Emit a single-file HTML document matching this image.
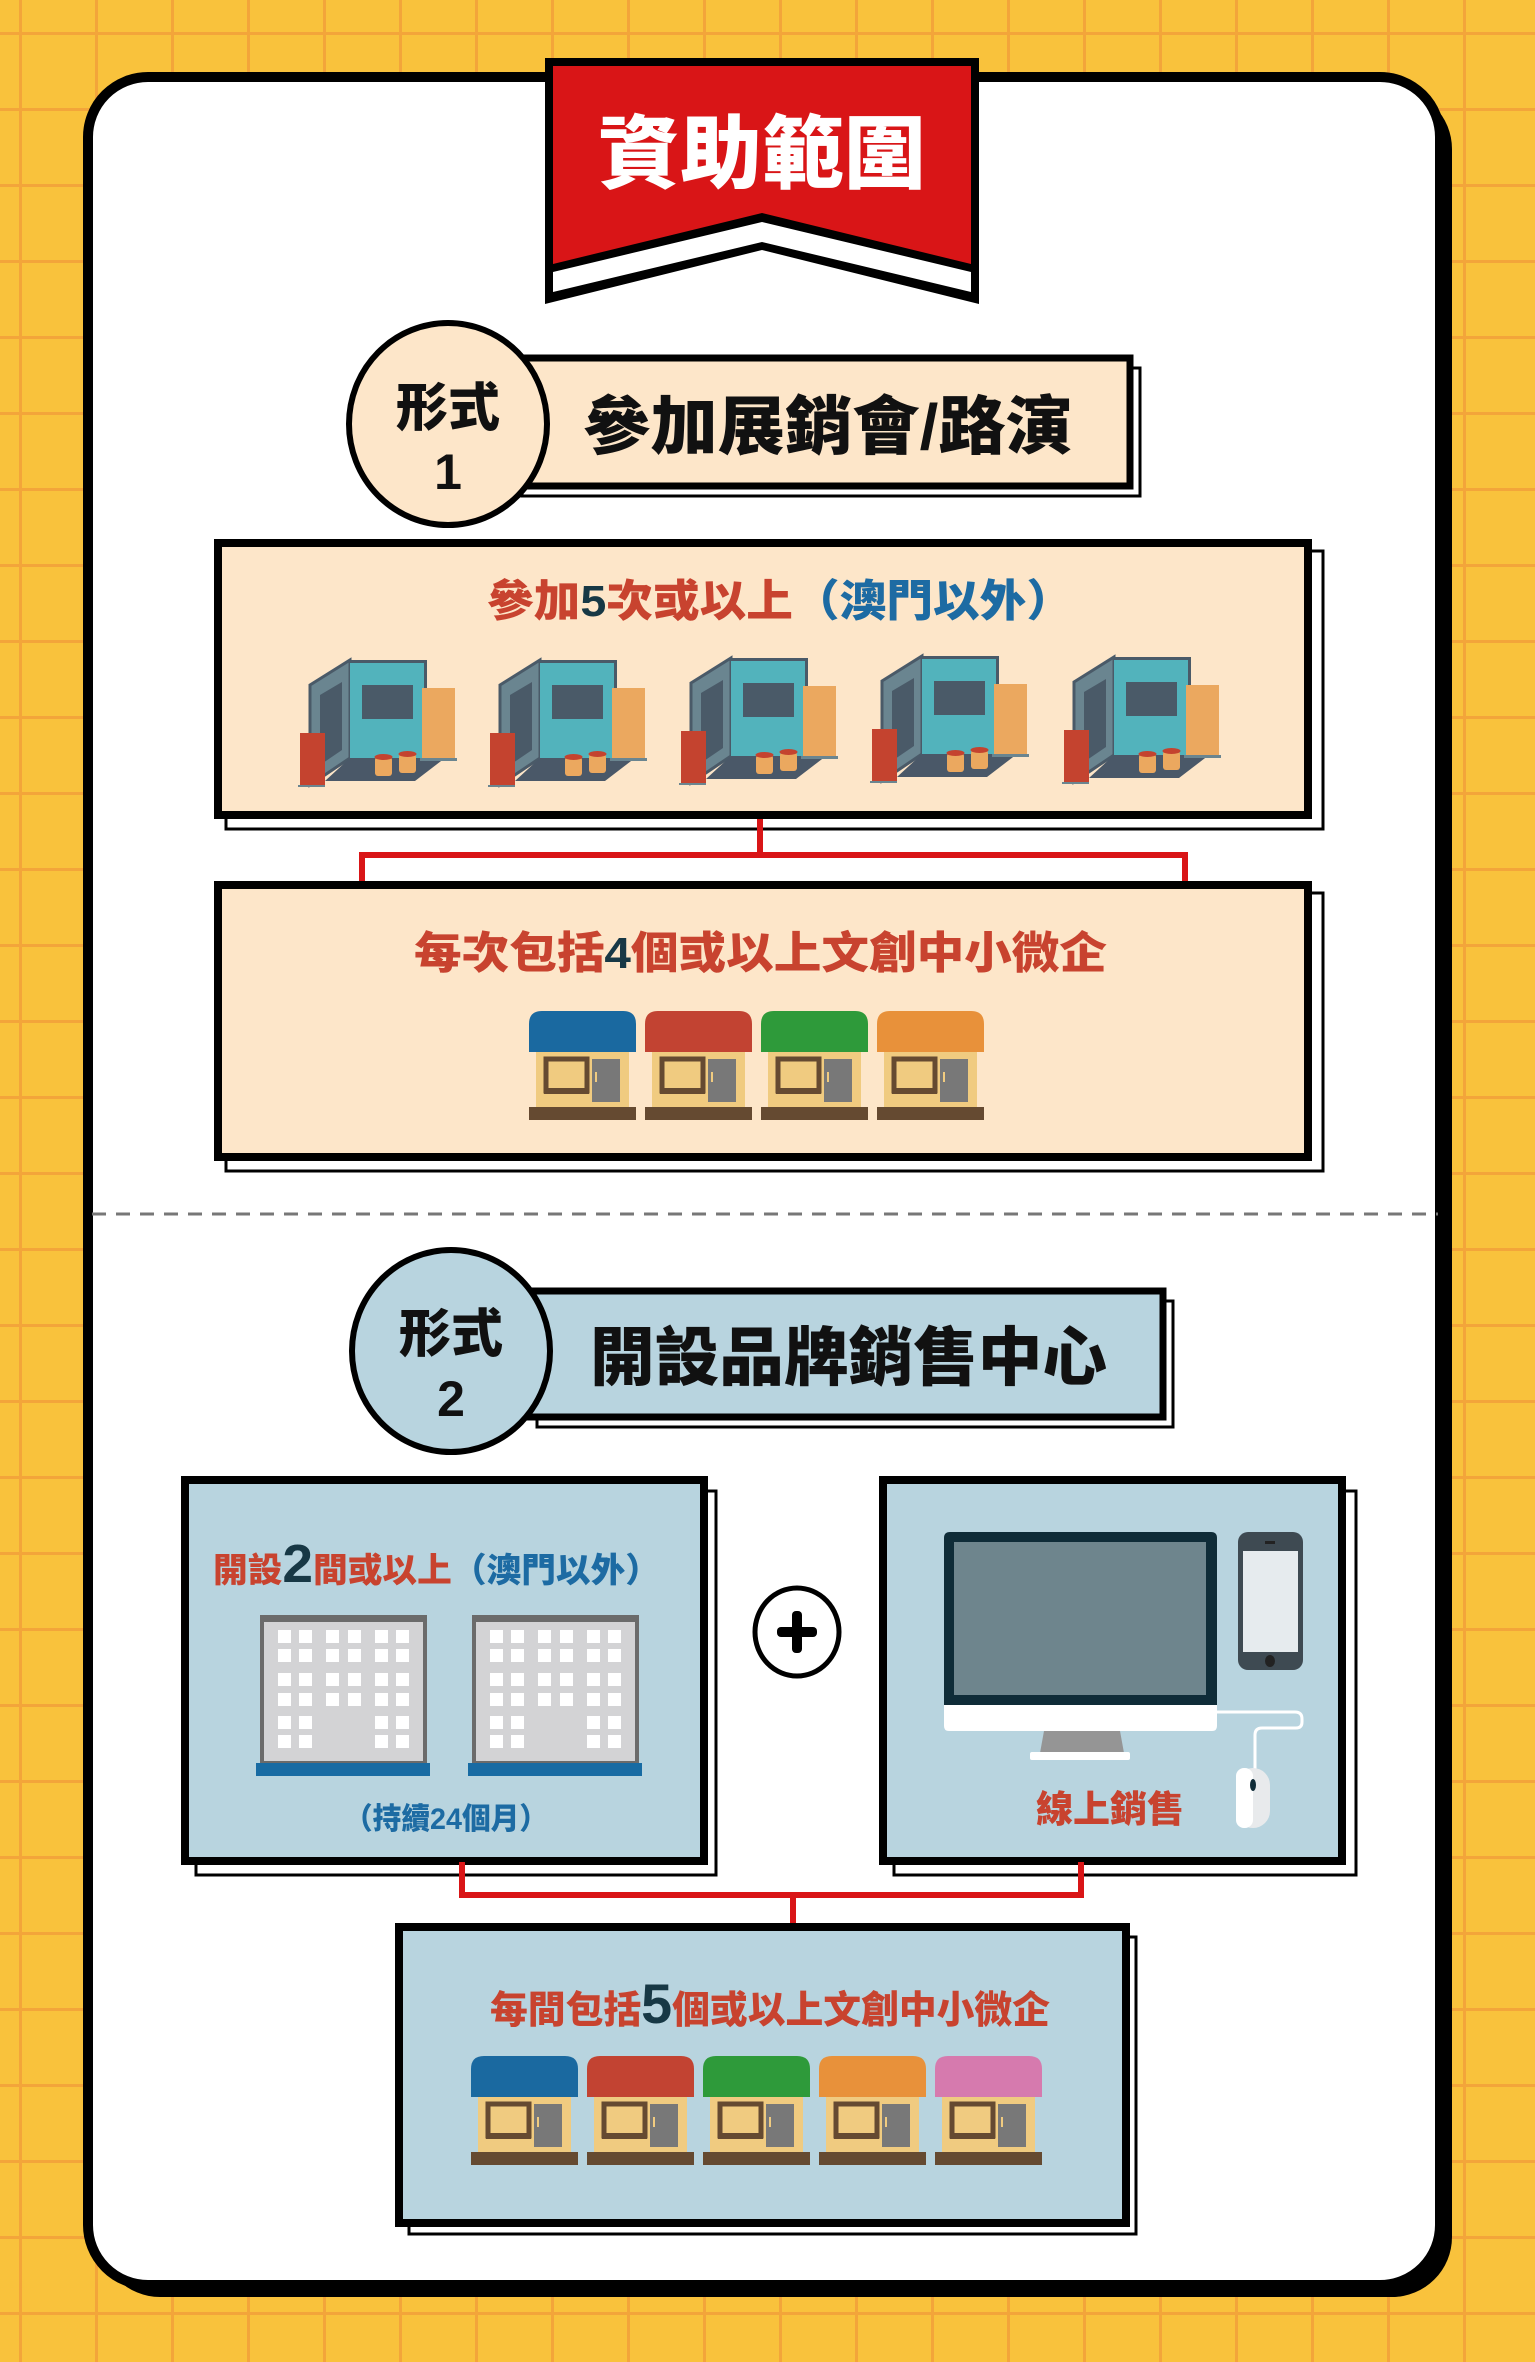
<!DOCTYPE html>
<html><head><meta charset="utf-8"><style>
html,body{margin:0;padding:0;width:1535px;height:2362px;overflow:hidden;background:#F9C23C}
svg{display:block}
text{font-family:"Liberation Sans","Noto Sans CJK TC","Noto Sans CJK SC",sans-serif;font-weight:900}
</style></head><body>
<svg width="1535" height="2362" viewBox="0 0 1535 2362" xmlns="http://www.w3.org/2000/svg">
<defs>
<pattern id="grid" x="19" y="32" width="76" height="76" patternUnits="userSpaceOnUse">
<rect x="0" y="0" width="3" height="76" fill="#F3A53A"/><rect x="0" y="0" width="76" height="3" fill="#F3A53A"/>
</pattern>
<g id="booth">
<polygon points="20,45 60,20 60,118 20,145" fill="#6A8590" stroke="#4A5A68" stroke-width="3"/>
<polygon points="30,55 52,42 52,110 30,125" fill="#4A5A68"/>
<polygon points="35,141 60,118 155,118 125,141" fill="#4A5868"/>
<rect x="60" y="20" width="77" height="98" fill="#52B3BC"/>
<rect x="60" y="20" width="77" height="3" fill="#4A5A68"/>
<rect x="134" y="20" width="3" height="98" fill="#4A5A68"/>
<rect x="72" y="45" width="51" height="34" fill="#4A5A68"/>
<rect x="132" y="48" width="33" height="70" fill="#EBA85F"/>
<rect x="130" y="118" width="37" height="3" fill="#6A8590"/>
<rect x="10" y="93" width="25" height="52" fill="#C4432F"/>
<rect x="8" y="145" width="27" height="2" fill="#6A8590"/>
<rect x="85" y="117" width="17" height="19" rx="3" fill="#EBA85F"/><ellipse cx="93.5" cy="117" rx="9" ry="3" fill="#C4432F"/>
<rect x="109" y="114" width="17" height="19" rx="3" fill="#EBA85F"/><ellipse cx="117.5" cy="114" rx="9" ry="3" fill="#C4432F"/>
</g>
<g id="shopbody">
<rect x="16" y="52" width="93" height="56" fill="#F0CB80"/>
<rect x="9" y="107" width="107" height="13" fill="#654A31"/>
<rect x="26" y="59" width="41" height="32" fill="none" stroke="#654A31" stroke-width="5"/>
<rect x="24" y="88" width="45" height="6" fill="#654A31"/>
<rect x="72" y="59" width="28" height="43" fill="#787878"/>
<rect x="75" y="72" width="2" height="10" fill="#F0CB80"/>
</g>
<g id="bldg">
<rect x="0" y="0" width="163" height="146" fill="#D3D3D5" stroke="#6B6B6B" stroke-width="4"/>
<rect x="0" y="0" width="163" height="5" fill="#6B6B6B"/>
<g fill="#fff">
<rect x="16" y="13" width="13" height="13"/><rect x="37" y="13" width="13" height="13"/><rect x="64" y="13" width="13" height="13"/><rect x="86" y="13" width="13" height="13"/><rect x="113" y="13" width="13" height="13"/><rect x="134" y="13" width="13" height="13"/>
<rect x="16" y="32" width="13" height="13"/><rect x="37" y="32" width="13" height="13"/><rect x="64" y="32" width="13" height="13"/><rect x="86" y="32" width="13" height="13"/><rect x="113" y="32" width="13" height="13"/><rect x="134" y="32" width="13" height="13"/>
<rect x="16" y="56" width="13" height="13"/><rect x="37" y="56" width="13" height="13"/><rect x="64" y="56" width="13" height="13"/><rect x="86" y="56" width="13" height="13"/><rect x="113" y="56" width="13" height="13"/><rect x="134" y="56" width="13" height="13"/>
<rect x="16" y="76" width="13" height="13"/><rect x="37" y="76" width="13" height="13"/><rect x="64" y="76" width="13" height="13"/><rect x="86" y="76" width="13" height="13"/><rect x="113" y="76" width="13" height="13"/><rect x="134" y="76" width="13" height="13"/>
<rect x="16" y="99" width="13" height="13"/><rect x="37" y="99" width="13" height="13"/><rect x="113" y="99" width="13" height="13"/><rect x="134" y="99" width="13" height="13"/>
<rect x="16" y="118" width="13" height="13"/><rect x="37" y="118" width="13" height="13"/><rect x="113" y="118" width="13" height="13"/><rect x="134" y="118" width="13" height="13"/>
</g>
</g>
</defs>
<rect width="1535" height="2362" fill="url(#grid)"/>

<!-- card -->
<rect x="100" y="89" width="1352" height="2208" rx="60" fill="#000"/>
<rect x="88" y="77" width="1352" height="2208" rx="60" fill="#fff" stroke="#000" stroke-width="10"/>

<!-- banner -->
<polygon points="545,58 979,58 979,304 762,250 545,304" fill="#000"/>
<polygon points="553,272 762,222 971,272 971,292 762,242 553,292" fill="#fff"/>
<polygon points="553,66 971,66 971,264 762,213 553,264" fill="#D91517"/>
<text x="762" y="182" font-size="80" fill="#fff" text-anchor="middle" textLength="328" lengthAdjust="spacingAndGlyphs">資助範圍</text>

<!-- form 1 header -->
<rect x="522" y="368" width="618" height="128" fill="#fff" stroke="#000" stroke-width="3"/>
<rect x="512" y="358" width="618" height="128" fill="#FDE6C9" stroke="#000" stroke-width="7"/>
<ellipse cx="448" cy="424" rx="99" ry="101" fill="#FDE6C9" stroke="#000" stroke-width="6"/>
<text x="448" y="426" font-size="52" fill="#111" text-anchor="middle">形式</text>
<text x="448" y="489" font-size="50" fill="#111" text-anchor="middle">1</text>
<text x="583" y="449" font-size="64" fill="#111" textLength="490" lengthAdjust="spacingAndGlyphs">參加展銷會/路演</text>

<!-- box 1 -->
<rect x="226" y="551" width="1097" height="278" fill="#fff" stroke="#000" stroke-width="3"/>
<rect x="218" y="543" width="1090" height="272" fill="#FDE6C9" stroke="#000" stroke-width="8"/>
<text x="487" y="616" font-size="44" textLength="586" lengthAdjust="spacingAndGlyphs"><tspan fill="#C8432F">參加</tspan><tspan fill="#173845">5</tspan><tspan fill="#C8432F">次或以上</tspan><tspan fill="#1D6BA3">（澳門以外）</tspan></text>
<use href="#booth" x="0" y="0" transform="translate(290,640)"/>
<use href="#booth" transform="translate(480,640)"/>
<use href="#booth" transform="translate(671,638)"/>
<use href="#booth" transform="translate(862,636)"/>
<use href="#booth" transform="translate(1054,637)"/>

<!-- connector 1 -->
<polyline points="760,819 760,855 362,855 362,881" fill="none" stroke="#D91517" stroke-width="6"/>
<polyline points="760,855 1185,855 1185,881" fill="none" stroke="#D91517" stroke-width="6"/>

<!-- box 2 -->
<rect x="226" y="893" width="1097" height="278" fill="#fff" stroke="#000" stroke-width="3"/>
<rect x="218" y="885" width="1090" height="272" fill="#FDE6C9" stroke="#000" stroke-width="8"/>
<text x="414" y="968" font-size="44" textLength="693" lengthAdjust="spacingAndGlyphs"><tspan fill="#C8432F">每次包括</tspan><tspan fill="#173845">4</tspan><tspan fill="#C8432F">個或以上文創中小微企</tspan></text>
<g transform="translate(520,1000)"><path d="M9,52 V24 Q9,11 22,11 H103 Q116,11 116,24 V52 Z" fill="#1A69A0"/><use href="#shopbody"/></g>
<g transform="translate(636,1000)"><path d="M9,52 V24 Q9,11 22,11 H103 Q116,11 116,24 V52 Z" fill="#C24332"/><use href="#shopbody"/></g>
<g transform="translate(752,1000)"><path d="M9,52 V24 Q9,11 22,11 H103 Q116,11 116,24 V52 Z" fill="#2E9A3A"/><use href="#shopbody"/></g>
<g transform="translate(868,1000)"><path d="M9,52 V24 Q9,11 22,11 H103 Q116,11 116,24 V52 Z" fill="#E8913A"/><use href="#shopbody"/></g>

<!-- dashed -->
<line x1="92" y1="1214" x2="1438" y2="1214" stroke="#777" stroke-width="3" stroke-dasharray="14 10"/>

<!-- form 2 header -->
<rect x="537" y="1301" width="636" height="126" fill="#fff" stroke="#000" stroke-width="3"/>
<rect x="527" y="1291" width="636" height="126" fill="#B8D4DF" stroke="#000" stroke-width="7"/>
<ellipse cx="451" cy="1351" rx="99" ry="101" fill="#B8D4DF" stroke="#000" stroke-width="6"/>
<text x="451" y="1352" font-size="52" fill="#111" text-anchor="middle">形式</text>
<text x="451" y="1416" font-size="50" fill="#111" text-anchor="middle">2</text>
<text x="590" y="1380" font-size="64" fill="#111" textLength="517" lengthAdjust="spacingAndGlyphs">開設品牌銷售中心</text>

<!-- left box -->
<rect x="196" y="1491" width="520" height="384" fill="#fff" stroke="#000" stroke-width="3"/>
<rect x="185" y="1480" width="519" height="381" fill="#B8D4DF" stroke="#000" stroke-width="8"/>
<text x="213" y="1582" font-size="34" textLength="447" lengthAdjust="spacingAndGlyphs"><tspan fill="#C8432F">開設</tspan><tspan fill="#173845" font-size="54">2</tspan><tspan fill="#C8432F">間或以上</tspan><tspan fill="#1D6BA3">（澳門以外）</tspan></text>
<use href="#bldg" transform="translate(262,1617)"/>
<use href="#bldg" transform="translate(474,1617)"/>
<rect x="256" y="1763" width="174" height="13" fill="#186BA3"/>
<rect x="468" y="1763" width="174" height="13" fill="#186BA3"/>
<text x="446" y="1829" font-size="30" fill="#1D6BA3" text-anchor="middle" textLength="204" lengthAdjust="spacingAndGlyphs">（持續24個月）</text>

<!-- plus -->
<ellipse cx="797" cy="1632" rx="42" ry="44" fill="#fff" stroke="#000" stroke-width="5"/>
<rect x="777" y="1627" width="40" height="10" rx="4" fill="#000"/>
<rect x="792" y="1611" width="10" height="42" rx="4" fill="#000"/>

<!-- right box -->
<rect x="894" y="1491" width="462" height="384" fill="#fff" stroke="#000" stroke-width="3"/>
<rect x="883" y="1480" width="459" height="381" fill="#B8D4DF" stroke="#000" stroke-width="8"/>
<path d="M944,1708 V1538 Q944,1532 950,1532 H1211 Q1217,1532 1217,1538 V1708 Z" fill="#0F2C38"/>
<rect x="954" y="1542" width="252" height="153" fill="#6E858D"/>
<path d="M944,1705 H1217 V1726 Q1217,1731 1212,1731 H949 Q944,1731 944,1726 Z" fill="#fff"/>
<polygon points="1044,1731 1120,1731 1124,1753 1040,1753" fill="#959595"/>
<rect x="1030" y="1752" width="100" height="8" rx="2" fill="#fff"/>
<path d="M1217,1712 H1295 Q1302,1712 1302,1719 V1722 Q1302,1728 1296,1728 H1262 Q1255,1728 1255,1735 V1770" fill="none" stroke="#fff" stroke-width="3"/>
<rect x="1238" y="1532" width="65" height="138" rx="10" fill="#3E4A52"/>
<rect x="1243" y="1551" width="55" height="101" fill="#E6EBEE"/>
<rect x="1265" y="1541" width="10" height="3" fill="#222"/>
<ellipse cx="1270" cy="1661" rx="5" ry="6" fill="#222"/>
<rect x="1236" y="1768" width="34" height="60" rx="17" fill="#E8EAEC"/>
<rect x="1236" y="1768" width="17" height="60" rx="8" fill="#fff"/>
<ellipse cx="1253" cy="1785" rx="3" ry="6" fill="#0F2C38"/>
<text x="1036" y="1822" font-size="37" fill="#C8432F" textLength="148" lengthAdjust="spacingAndGlyphs">線上銷售</text>

<!-- connector 2 -->
<polyline points="462,1862 462,1895 1081,1895 1081,1862" fill="none" stroke="#D91517" stroke-width="6"/>
<line x1="793" y1="1895" x2="793" y2="1925" stroke="#D91517" stroke-width="6"/>

<!-- box 3 -->
<rect x="409" y="1937" width="727" height="297" fill="#fff" stroke="#000" stroke-width="3"/>
<rect x="399" y="1927" width="727" height="296" fill="#B8D4DF" stroke="#000" stroke-width="8"/>
<text x="490" y="2023" font-size="38" textLength="560" lengthAdjust="spacingAndGlyphs"><tspan fill="#C8432F">每間包括</tspan><tspan fill="#173845" font-size="56">5</tspan><tspan fill="#C8432F">個或以上文創中小微企</tspan></text>
<g transform="translate(462,2045)"><path d="M9,52 V24 Q9,11 22,11 H103 Q116,11 116,24 V52 Z" fill="#1A69A0"/><use href="#shopbody"/></g>
<g transform="translate(578,2045)"><path d="M9,52 V24 Q9,11 22,11 H103 Q116,11 116,24 V52 Z" fill="#C24332"/><use href="#shopbody"/></g>
<g transform="translate(694,2045)"><path d="M9,52 V24 Q9,11 22,11 H103 Q116,11 116,24 V52 Z" fill="#2E9A3A"/><use href="#shopbody"/></g>
<g transform="translate(810,2045)"><path d="M9,52 V24 Q9,11 22,11 H103 Q116,11 116,24 V52 Z" fill="#E8913A"/><use href="#shopbody"/></g>
<g transform="translate(926,2045)"><path d="M9,52 V24 Q9,11 22,11 H103 Q116,11 116,24 V52 Z" fill="#D67AAE"/><use href="#shopbody"/></g>
</svg>
</body></html>
